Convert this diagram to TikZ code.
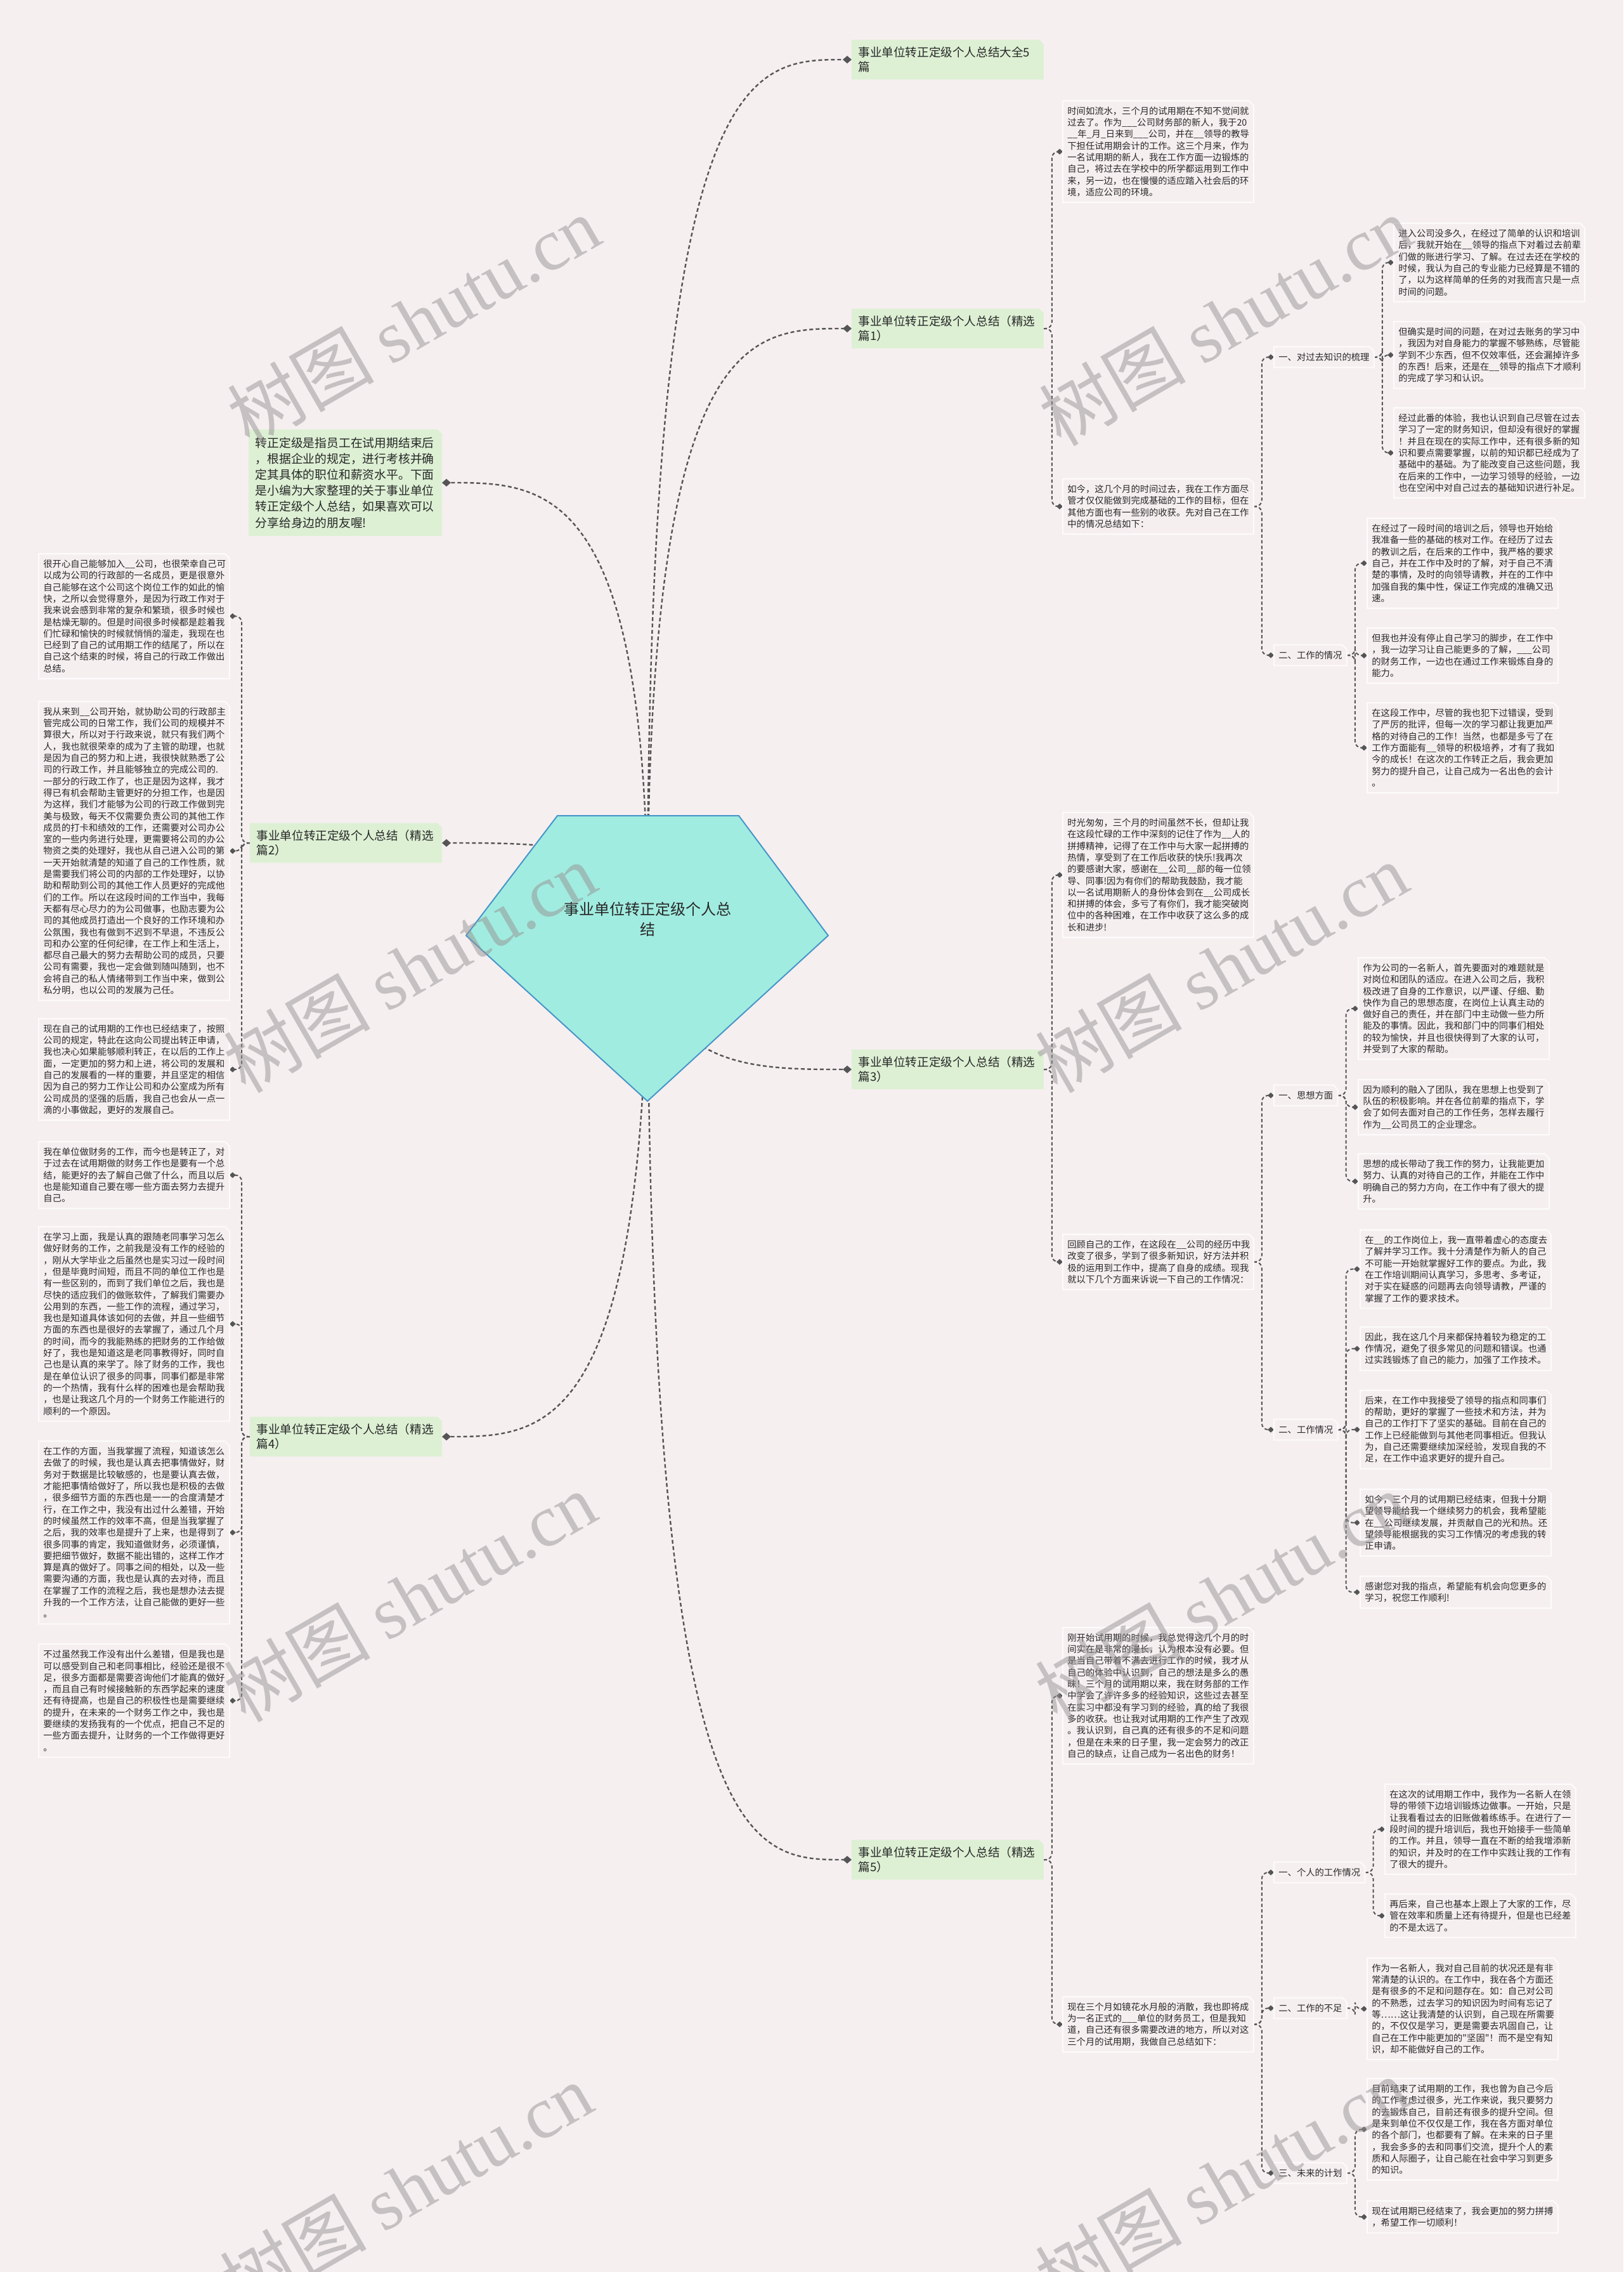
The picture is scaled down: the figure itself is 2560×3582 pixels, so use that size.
\documentclass[tikz,border=0pt]{standalone}
\usepackage{fontspec}
\setmainfont{Noto Sans CJK SC}
\newfontfamily\cjk{Noto Sans CJK SC}
\newfontfamily\wmserif{Liberation Serif}
\usetikzlibrary{arrows.meta,calc}
\definecolor{bgc}{RGB}{246,239,240}
\definecolor{edgec}{RGB}{85,85,85}
\definecolor{grnfill}{RGB}{221,240,212}
\definecolor{txtc}{RGB}{40,40,40}
\definecolor{pentfill}{RGB}{161,236,224}
\definecolor{pentline}{RGB}{70,150,200}
\definecolor{wmc}{RGB}{150,146,147}
\definecolor{boxline}{RGB}{253,251,251}
\newcommand\blkfont{\cjk\fontsize{7.15pt}{9.15pt}\selectfont}
\newcommand\grnfont{\cjk\fontsize{9.3pt}{11.4pt}\selectfont}
\newcommand\intfont{\cjk\fontsize{9.4pt}{12.6pt}\selectfont}
\newcommand\ctrfont{\cjk\fontsize{12pt}{16pt}\selectfont}
\newcommand\wmfont{\cjk\fontsize{58pt}{60pt}\selectfont}
\newcommand\chbox[2]{\path[#2] (#1.south west) -- (#1.north west) -- ([xshift=-3.5pt]#1.north east) -- ([yshift=-3.5pt]#1.north east) -- (#1.south east) -- cycle;}
\newcommand\medge[2]{\draw[medgestyle] (#1) .. controls (#1 |- #2) and ($(#1 |- #2)!0.5!(#2)$) .. (#2);}
\newcommand\redge[2]{\draw[sedgestyle] (#1.east) -- ++(6.5pt,0pt) |- (#2.west);}
\newcommand\ledge[2]{\draw[sedgestyle] (#1.west) -- ++(-6.5pt,0pt) |- (#2.east);}
\pgfdeclarelayer{bgl}
\pgfdeclarelayer{edges}
\pgfdeclarelayer{boxes}
\pgfdeclarelayer{wm}
\pgfsetlayers{bgl,edges,boxes,main,wm}
\begin{document}
\begin{tikzpicture}[x=0.5pt,y=-0.5pt,
  blk/.style={anchor=north west, text width=143pt, inner xsep=3.5pt, inner ysep=0pt, align=left, font=\blkfont, text=txtc, minimum height={#1*9.15pt+6.5pt}},
  lab/.style={anchor=west, inner xsep=3.5pt, inner ysep=0pt, minimum height=16pt, font=\blkfont, text=txtc},
  grnbox/.style={text width=141pt, inner xsep=5pt, inner ysep=0pt, align=left, font=\grnfont, text=txtc, minimum height=31pt},
  introbox/.style={anchor=east, text width=142pt, inner xsep=5pt, inner ysep=0pt, align=left, font=\intfont, text=txtc, minimum height=83.5pt},
  ctrtext/.style={align=center, font=\ctrfont, text=txtc, inner sep=0pt},
  wmark/.style={font=\wmfont, text=wmc, text opacity=0.5, rotate=30, inner sep=0pt},
  medgestyle/.style={draw=edgec, line width=1.2pt, dash pattern=on 3pt off 2pt, -{Diamond[length=7pt,width=6pt]}},
  sedgestyle/.style={draw=edgec, line width=1pt, dash pattern=on 2.6pt off 1.8pt, rounded corners=5pt, -{Diamond[length=5pt,width=4.5pt]}}
]
\useasboundingbox (0,0) rectangle (2560,3582);
\begin{pgfonlayer}{bgl}
\fill[bgc] (0,0) rectangle (2560,3582);
\end{pgfonlayer}

% centre
\node[ctrtext] (ctr) at (1021,1449) {事业单位转正定级个人总\\结};

% first level
\node[grnbox, anchor=west] (g0) at (1343,94) {事业单位转正定级个人总结大全5\\篇};
\node[grnbox, anchor=west] (g1) at (1343,518) {事业单位转正定级个人总结（精选\\篇1）};
\node[grnbox, anchor=west] (g3) at (1343,1686) {事业单位转正定级个人总结（精选\\篇3）};
\node[grnbox, anchor=west] (g5) at (1343,2932) {事业单位转正定级个人总结（精选\\篇5）};
\node[grnbox, anchor=east] (g2) at (697,1329) {事业单位转正定级个人总结（精选\\篇2）};
\node[grnbox, anchor=east] (g4) at (697,2265) {事业单位转正定级个人总结（精选\\篇4）};
\node[introbox] (intro) at (697,761) {转正定级是指员工在试用期结束后\\，根据企业的规定，进行考核并确\\定其具体的职位和薪资水平。下面\\是小编为大家整理的关于事业单位\\转正定级个人总结，如果喜欢可以\\分享给身边的朋友喔!};

% right blocks
\node[blk=8] (a1) at (1676,159) {时间如流水，三个月的试用期在不知不觉间就\\过去了。作为\_\_\_公司财务部的新人，我于20\\\_\_年\_月\_日来到\_\_\_公司，并在\_\_领导的教导\\下担任试用期会计的工作。这三个月来，作为\\一名试用期的新人，我在工作方面一边锻炼的\\自己，将过去在学校中的所学都运用到工作中\\来，另一边，也在慢慢的适应踏入社会后的环\\境，适应公司的环境。};
\node[blk=4] (b1) at (1676,755) {如今，这几个月的时间过去，我在工作方面尽\\管才仅仅能做到完成基础的工作的目标，但在\\其他方面也有一些别的收获。先对自己在工作\\中的情况总结如下：};
\node[blk=10] (a3) at (1676,1281) {时光匆匆，三个月的时间虽然不长，但却让我\\在这段忙碌的工作中深刻的记住了作为\_\_人的\\拼搏精神，记得了在工作中与大家一起拼搏的\\热情，享受到了在工作后收获的快乐!我再次\\的要感谢大家，感谢在\_\_公司\_\_部的每一位领\\导、同事!因为有你们的帮助我鼓励，我才能\\以一名试用期新人的身份体会到在\_\_公司成长\\和拼搏的体会，多亏了有你们，我才能突破岗\\位中的各种困难，在工作中收获了这么多的成\\长和进步!};
\node[blk=4] (b3) at (1676,1946) {回顾自己的工作，在这段在\_\_公司的经历中我\\改变了很多，学到了很多新知识，好方法并积\\极的运用到工作中，提高了自身的成绩。现我\\就以下几个方面来诉说一下自己的工作情况：};
\node[blk=11] (a5) at (1676,2566) {刚开始试用期的时候，我总觉得这几个月的时\\间实在是非常的漫长，认为根本没有必要。但\\是当自己带着不满去进行工作的时候，我才从\\自己的体验中认识到，自己的想法是多么的愚\\昧！三个月的试用期以来，我在财务部的工作\\中学会了许许多多的经验知识，这些过去甚至\\在实习中都没有学习到的经验，真的给了我很\\多的收获。也让我对试用期的工作产生了改观\\。我认识到，自己真的还有很多的不足和问题\\，但是在未来的日子里，我一定会努力的改正\\自己的缺点，让自己成为一名出色的财务！};
\node[blk=4] (b5) at (1676,3148) {现在三个月如镜花水月般的消散，我也即将成\\为一名正式的\_\_\_单位的财务员工，但是我知\\道，自己还有很多需要改进的地方，所以对这\\三个月的试用期，我做自己总结如下：};

% left blocks
\node[blk=10] (l2a) at (61,873) {很开心自己能够加入\_\_公司，也很荣幸自己可\\以成为公司的行政部的一名成员，更是很意外\\自己能够在这个公司这个岗位工作的如此的愉\\快，之所以会觉得意外，是因为行政工作对于\\我来说会感到非常的复杂和繁琐，很多时候也\\是枯燥无聊的。但是时间很多时候都是趁着我\\们忙碌和愉快的时候就悄悄的溜走，我现在也\\已经到了自己的试用期工作的结尾了，所以在\\自己这个结束的时候，将自己的行政工作做出\\总结。};
\node[blk=25] (l2b) at (61,1106) {我从来到\_\_公司开始，就协助公司的行政部主\\管完成公司的日常工作，我们公司的规模并不\\算很大，所以对于行政来说，就只有我们两个\\人，我也就很荣幸的成为了主管的助理，也就\\是因为自己的努力和上进，我很快就熟悉了公\\司的行政工作，并且能够独立的完成公司的.\\一部分的行政工作了，也正是因为这样，我才\\得已有机会帮助主管更好的分担工作，也是因\\为这样，我们才能够为公司的行政工作做到完\\美与极致，每天不仅需要负责公司的其他工作\\成员的打卡和绩效的工作，还需要对公司办公\\室的一些内务进行处理，更需要将公司的办公\\物资之类的处理好，我也从自己进入公司的第\\一天开始就清楚的知道了自己的工作性质，就\\是需要我们将公司的内部的工作处理好，以协\\助和帮助到公司的其他工作人员更好的完成他\\们的工作。所以在这段时间的工作当中，我每\\天都有尽心尽力的为公司做事，也励志要为公\\司的其他成员打造出一个良好的工作环境和办\\公氛围，我也有做到不迟到不早退，不违反公\\司和办公室的任何纪律，在工作上和生活上，\\都尽自己最大的努力去帮助公司的成员，只要\\公司有需要，我也一定会做到随叫随到，也不\\会将自己的私人情绪带到工作当中来，做到公\\私分明，也以公司的发展为己任。};
\node[blk=8] (l2c) at (61,1606) {现在自己的试用期的工作也已经结束了，按照\\公司的规定，特此在这向公司提出转正申请，\\我也决心如果能够顺利转正，在以后的工作上\\面，一定更加的努力和上进，将公司的发展和\\自己的发展看的一样的重要，并且坚定的相信\\因为自己的努力工作让公司和办公室成为所有\\公司成员的坚强的后盾，我自己也会从一点一\\滴的小事做起，更好的发展自己。};
\node[blk=5] (l4a) at (61,1800) {我在单位做财务的工作，而今也是转正了，对\\于过去在试用期做的财务工作也是要有一个总\\结，能更好的去了解自己做了什么，而且以后\\也是能知道自己要在哪一些方面去努力去提升\\自己。};
\node[blk=16] (l4b) at (61,1934) {在学习上面，我是认真的跟随老同事学习怎么\\做好财务的工作，之前我是没有工作的经验的\\，刚从大学毕业之后虽然也是实习过一段时间\\，但是毕竟时间短，而且不同的单位工作也是\\有一些区别的，而到了我们单位之后，我也是\\尽快的适应我们的做账软件，了解我们需要办\\公用到的东西，一些工作的流程，通过学习，\\我也是知道具体该如何的去做，并且一些细节\\方面的东西也是很好的去掌握了，通过几个月\\的时间，而今的我能熟练的把财务的工作给做\\好了，我也是知道这是老同事教得好，同时自\\己也是认真的来学了。除了财务的工作，我也\\是在单位认识了很多的同事，同事们都是非常\\的一个热情，我有什么样的困难也是会帮助我\\，也是让我这几个月的一个财务工作能进行的\\顺利的一个原因。};
\node[blk=15] (l4c) at (61,2272) {在工作的方面，当我掌握了流程，知道该怎么\\去做了的时候，我也是认真去把事情做好，财\\务对于数据是比较敏感的，也是要认真去做，\\才能把事情给做好了，所以我也是积极的去做\\，很多细节方面的东西也是一一的合度清楚才\\行，在工作之中，我没有出过什么差错，开始\\的时候虽然工作的效率不高，但是当我掌握了\\之后，我的效率也是提升了上来，也是得到了\\很多同事的肯定，我知道做财务，必须谨慎，\\要把细节做好，数据不能出错的，这样工作才\\算是真的做好了。同事之间的相处，以及一些\\需要沟通的方面，我也是认真的去对待，而且\\在掌握了工作的流程之后，我也是想办法去提\\升我的一个工作方法，让自己能做的更好一些\\。};
\node[blk=9] (l4d) at (61,2592) {不过虽然我工作没有出什么差错，但是我也是\\可以感受到自己和老同事相比，经验还是很不\\足，很多方面都是需要咨询他们才能真的做好\\，而且自己有时候接触新的东西学起来的速度\\还有待提高，也是自己的积极性也是需要继续\\的提升，在未来的一个财务工作之中，我也是\\要继续的发扬我有的一个优点，把自己不足的\\一些方面去提升，让财务的一个工作做得更好\\。};

% sub labels
\node[lab] (s11) at (2009,563) {一、对过去知识的梳理};
\node[lab] (s12) at (2009,1033) {二、工作的情况};
\node[lab] (s31) at (2009,1727) {一、思想方面};
\node[lab] (s32) at (2009,2254) {二、工作情况};
\node[lab] (s51) at (2009,2952) {一、个人的工作情况};
\node[lab] (s52) at (2009,3166) {二、工作的不足};
\node[lab] (s53) at (2009,3426) {三、未来的计划};

% third level blocks
\node[blk=6] (t111) at (2198,352) {进入公司没多久，在经过了简单的认识和培训\\后，我就开始在\_\_领导的指点下对着过去前辈\\们做的账进行学习、了解。在过去还在学校的\\时候，我认为自己的专业能力已经算是不错的\\了，以为这样简单的任务的对我而言只是一点\\时间的问题。};
\node[blk=5] (t112) at (2198,507) {但确实是时间的问题，在对过去账务的学习中\\，我因为对自身能力的掌握不够熟练，尽管能\\学到不少东西，但不仅效率低，还会漏掉许多\\的东西！后来，还是在\_\_领导的指点下才顺利\\的完成了学习和认识。};
\node[blk=7] (t113) at (2198,643) {经过此番的体验，我也认识到自己尽管在过去\\学习了一定的财务知识，但却没有很好的掌握\\！并且在现在的实际工作中，还有很多新的知\\识和要点需要掌握，以前的知识都已经成为了\\基础中的基础。为了能改变自己这些问题，我\\在后来的工作中，一边学习领导的经验，一边\\也在空闲中对自己过去的基础知识进行补足。};
\node[blk=7] (t121) at (2156,817) {在经过了一段时间的培训之后，领导也开始给\\我准备一些的基础的核对工作。在经历了过去\\的教训之后，在后来的工作中，我严格的要求\\自己，并在工作中及时的了解，对于自己不清\\楚的事情，及时的向领导请教，并在的工作中\\加强自我的集中性，保证工作完成的准确又迅\\速。};
\node[blk=4] (t122) at (2156,990) {但我也并没有停止自己学习的脚步，在工作中\\，我一边学习让自己能更多的了解，\_\_\_公司\\的财务工作，一边也在通过工作来锻炼自身的\\能力。};
\node[blk=7] (t123) at (2156,1108) {在这段工作中，尽管的我也犯下过错误，受到\\了严厉的批评，但每一次的学习都让我更加严\\格的对待自己的工作！当然，也都是多亏了在\\工作方面能有\_\_领导的积极培养，才有了我如\\今的成长！在这次的工作转正之后，我会更加\\努力的提升自己，让自己成为一名出色的会计\\。};
\node[blk=8] (t311) at (2142,1510) {作为公司的一名新人，首先要面对的难题就是\\对岗位和团队的适应。在进入公司之后，我积\\极改进了自身的工作意识，以严谨、仔细、勤\\快作为自己的思想态度，在岗位上认真主动的\\做好自己的责任，并在部门中主动做一些力所\\能及的事情。因此，我和部门中的同事们相处\\的较为愉快，并且也很快得到了大家的认可，\\并受到了大家的帮助。};
\node[blk=4] (t312) at (2142,1702) {因为顺利的融入了团队，我在思想上也受到了\\队伍的积极影响。并在各位前辈的指点下，学\\会了如何去面对自己的工作任务，怎样去履行\\作为\_\_公司员工的企业理念。};
\node[blk=4] (t313) at (2142,1819) {思想的成长带动了我工作的努力，让我能更加\\努力、认真的对待自己的工作，并能在工作中\\明确自己的努力方向，在工作中有了很大的提\\升。};
\node[blk=6] (t321) at (2145,1939) {在\_\_的工作岗位上，我一直带着虚心的态度去\\了解并学习工作。我十分清楚作为新人的自己\\不可能一开始就掌握好工作的要点。为此，我\\在工作培训期间认真学习，多思考、多考证，\\对于实在疑惑的问题再去向领导请教，严谨的\\掌握了工作的要求技术。};
\node[blk=3] (t322) at (2145,2092) {因此，我在这几个月来都保持着较为稳定的工\\作情况，避免了很多常见的问题和错误。也通\\过实践锻炼了自己的能力，加强了工作技术。};
\node[blk=6] (t323) at (2145,2192) {后来，在工作中我接受了领导的指点和同事们\\的帮助，更好的掌握了一些技术和方法，并为\\自己的工作打下了坚实的基础。目前在自己的\\工作上已经能做到与其他老同事相近。但我认\\为，自己还需要继续加深经验，发现自我的不\\足，在工作中追求更好的提升自己。};
\node[blk=5] (t324) at (2145,2348) {如今，三个月的试用期已经结束，但我十分期\\望领导能给我一个继续努力的机会，我希望能\\在\_\_公司继续发展，并贡献自己的光和热。还\\望领导能根据我的实习工作情况的考虑我的转\\正申请。};
\node[blk=2] (t325) at (2145,2485) {感谢您对我的指点，希望能有机会向您更多的\\学习，祝您工作顺利!};
\node[blk=7] (t511) at (2184,2813) {在这次的试用期工作中，我作为一名新人在领\\导的带领下边培训锻炼边做事。一开始，只是\\让我看看过去的旧账做着练练手。在进行了一\\段时间的提升培训后，我也开始接手一些简单\\的工作。并且，领导一直在不断的给我增添新\\的知识，并及时的在工作中实践让我的工作有\\了很大的提升。};
\node[blk=3] (t512) at (2184,2986) {再后来，自己也基本上跟上了大家的工作，尽\\管在效率和质量上还有待提升，但是也已经差\\的不是太远了。};
\node[blk=8] (t521) at (2156,3087) {作为一名新人，我对自己目前的状况还是有非\\常清楚的认识的。在工作中，我在各个方面还\\是有很多的不足和问题存在。如：自己对公司\\的不熟悉，过去学习的知识因为时间有忘记了\\等……这让我清楚的认识到，自己现在所需要\\的，不仅仅是学习，更是需要去巩固自己，让\\自己在工作中能更加的"坚固"！而不是空有知\\识，却不能做好自己的工作。};
\node[blk=8] (t531) at (2156,3277) {目前结束了试用期的工作，我也曾为自己今后\\的工作考虑过很多，光工作来说，我只要努力\\的去锻炼自己，目前还有很多的提升空间。但\\是来到单位不仅仅是工作，我在各方面对单位\\的各个部门，也都要有了解。在未来的日子里\\，我会多多的去和同事们交流，提升个人的素\\质和人际圈子，让自己能在社会中学习到更多\\的知识。};
\node[blk=2] (t532) at (2156,3470) {现在试用期已经结束了，我会更加的努力拼搏\\，希望工作一切顺利！};

% boxes
\begin{pgfonlayer}{boxes}
\foreach \n in {a1,b1,a3,b3,a5,b5,l2a,l2b,l2c,l4a,l4b,l4c,l4d,s11,s12,s31,s32,s51,s52,s53,t111,t112,t113,t121,t122,t123,t311,t312,t313,t321,t322,t323,t324,t325,t511,t512,t521,t531,t532}{\chbox{\n}{fill=bgc, draw=boxline, line width=1pt}}
\foreach \n in {g0,g1,g2,g3,g4,g5,intro}{\chbox{\n}{fill=grnfill}}
\path[fill=pentfill, draw=pentline, line width=1pt] (879,1286) -- (1165,1286) -- (1306,1475) -- (1021,1736) -- (735,1475) -- cycle;
\end{pgfonlayer}

% connectors
\begin{pgfonlayer}{edges}
\medge{ctr.center}{g0.west}
\medge{ctr.center}{g1.west}
\medge{ctr.center}{g3.west}
\medge{ctr.center}{g5.west}
\medge{ctr.center}{g2.east}
\medge{ctr.center}{g4.east}
\medge{ctr.center}{intro.east}
\redge{g1}{a1}\redge{g1}{b1}
\redge{g3}{a3}\redge{g3}{b3}
\redge{g5}{a5}\redge{g5}{b5}
\ledge{g2}{l2a}\ledge{g2}{l2b}\ledge{g2}{l2c}
\ledge{g4}{l4a}\ledge{g4}{l4b}\ledge{g4}{l4c}\ledge{g4}{l4d}
\redge{b1}{s11}\redge{b1}{s12}
\redge{b3}{s31}\redge{b3}{s32}
\redge{b5}{s51}\redge{b5}{s52}\redge{b5}{s53}
\redge{s11}{t111}\redge{s11}{t112}\redge{s11}{t113}
\redge{s12}{t121}\redge{s12}{t122}\redge{s12}{t123}
\redge{s31}{t311}\redge{s31}{t312}\redge{s31}{t313}
\redge{s32}{t321}\redge{s32}{t322}\redge{s32}{t323}\redge{s32}{t324}\redge{s32}{t325}
\redge{s51}{t511}\redge{s51}{t512}
\redge{s52}{t521}
\redge{s53}{t531}\redge{s53}{t532}
\end{pgfonlayer}

% watermarks
\begin{pgfonlayer}{wm}
\node[wmark] (w1) at (652,505) {树图 {\wmserif shutu.cn}};
\node[wmark] (w2) at (1932,505) {树图 {\wmserif shutu.cn}};
\node[wmark] (w3) at (646,1525) {树图 {\wmserif shutu.cn}};
\node[wmark] (w4) at (1926,1525) {树图 {\wmserif shutu.cn}};
\node[wmark] (w5) at (646,2517) {树图 {\wmserif shutu.cn}};
\node[wmark] (w6) at (1926,2517) {树图 {\wmserif shutu.cn}};
\node[wmark] (w7) at (640,3449) {树图 {\wmserif shutu.cn}};
\node[wmark] (w8) at (1926,3440) {树图 {\wmserif shutu.cn}};
\end{pgfonlayer}
\end{tikzpicture}
\end{document}
